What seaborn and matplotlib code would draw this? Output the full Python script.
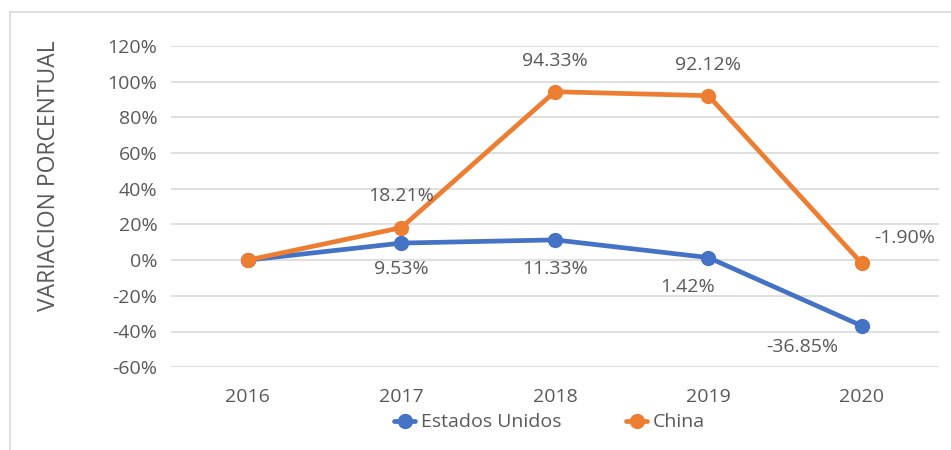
import pandas as pd
import matplotlib.pyplot as plt
import matplotlib.patches as mpatches
import seaborn as sns

# datos
years = [2016, 2017, 2018, 2019, 2020]
usa = [0.0, 9.53, 11.33, 1.42, -36.85]
china = [0.0, 18.21, 94.33, 92.12, -1.90]
series_names = ['Estados Unidos', 'China']
colors = ['#4472C4', '#ED7D31']

df = pd.DataFrame({
    'year': years * 2,
    'value': usa + china,
    'serie': [series_names[0]] * len(years) + [series_names[1]] * len(years),
})

sns.set_style('white')
plt.rcParams['font.family'] = ['Open Sans', 'DejaVu Sans']
txt_color = '#595959'
fs = 14

fig = plt.figure(figsize=[9.51, 4.5], dpi=100)
ax = fig.add_axes([0.18, 0.184, 0.807, 0.714])

# borde gris del grafico (solo izquierda y arriba visibles)
fig.patches.append(mpatches.Rectangle((0.0105, -0.05), 1.2, 1.023, transform=fig.transFigure,
                                      fill=False, edgecolor='#d9d9d9', linewidth=1.2))

sns.lineplot(data=df, x='year', y='value', hue='serie', palette=colors,
             marker='o', markersize=11, markeredgewidth=0, linewidth=3.4, ax=ax, legend=True)

ax.set_xlim(2015.5, 2020.5)
ax.set_ylim(-60, 120)
ax.set_yticks(range(-60, 121, 20))
ax.set_yticklabels([f'{v}%' for v in range(-60, 121, 20)])
ax.set_xticks(years)
ax.grid(axis='y', color='#d9d9d9', linewidth=1.2)
ax.set_axisbelow(True)
for s in ax.spines.values():
    s.set_visible(False)
ax.tick_params(axis='x', length=0, labelsize=fs, labelcolor=txt_color, pad=15)
ax.tick_params(axis='y', length=0, labelsize=fs, labelcolor=txt_color, pad=10)
ax.set_xlabel('')
ax.set_ylabel('VARIACION PORCENTUAL', fontsize=16.5, color=txt_color)
ax.yaxis.set_label_coords(-0.143, 0.595)

# etiquetas de datos (desplazamientos en puntos)
china_off = [(0, 0), (0, 23), (0, 22), (0, 22), (31, 18)]
usa_off = [(0, 0), (0, -19), (0, -21), (-15, -21), (-43, -15)]
for i in range(1, len(years)):
    ax.annotate(f'{china[i]:.2f}%', (years[i], china[i]), xytext=china_off[i],
                textcoords='offset points', ha='center', va='center', fontsize=fs, color=txt_color)
    ax.annotate(f'{usa[i]:.2f}%', (years[i], usa[i]), xytext=usa_off[i],
                textcoords='offset points', ha='center', va='center', fontsize=fs, color=txt_color)

leg = ax.legend(loc='center', bbox_to_anchor=(0.493, -0.172), ncol=2, frameon=False,
                fontsize=fs, handlelength=1.1, handletextpad=0.3, columnspacing=3.3)
for t in leg.get_texts():
    t.set_color(txt_color)

plt.savefig('out.png', dpi=100)
